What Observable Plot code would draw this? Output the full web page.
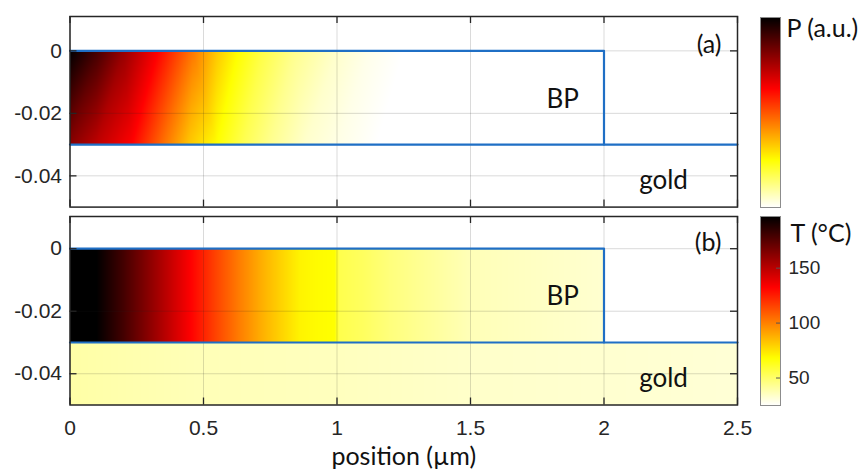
<!DOCTYPE html>
<html><head><meta charset="utf-8">
<script src="https://cdn.jsdelivr.net/npm/d3@7"></script>
<script src="https://cdn.jsdelivr.net/npm/@observablehq/plot@0.6"></script>
<style>
body{margin:0;background:#fff;}
#chart{position:relative;width:865px;height:471px;overflow:hidden;background:#fff;}
#chart svg{position:absolute;overflow:visible;}
</style></head><body><div id="chart"></div>
<script>
// ---- data ----
// (a) normalised absorbed power along the top (y = 0) and bottom (y = -0.03) of the BP flake
const pXTop    = [0, 0.1, 0.2, 0.33, 0.46, 0.55, 0.63, 0.72, 0.84, 1.0, 1.12, 1.25, 2.0];
const pTop     = [1.0, 0.9, 0.78, 0.625, 0.45, 0.33, 0.25, 0.18, 0.11, 0.05, 0.02, 0, 0];
const pXBottom = [0, 0.1, 0.23, 0.35, 0.45, 0.55, 0.65, 0.75, 0.88, 1.0, 1.15, 2.0];
const pBottom  = [0.8, 0.72, 0.625, 0.46, 0.33, 0.25, 0.17, 0.11, 0.05, 0.025, 0, 0];
// (b) temperature (°C) in the BP flake and in the gold
const tX    = [0, 0.1, 0.2, 0.28, 0.37, 0.45, 0.55, 0.64, 0.72, 0.8, 0.86, 0.92, 0.99, 1.01, 1.1, 1.2, 1.35, 1.5, 1.75, 2.0];
const tBP   = [205, 197, 180, 165, 148, 133, 115, 100, 88, 78, 71, 69, 68, 55, 52, 47, 42, 37, 35, 33];
const goldX = [0, 0.5, 1, 1.5, 2, 2.5];
const tGold = [40, 37, 36, 34, 33, 32];
// geometry (µm)
const bpOutlineX = [0, 2, 2];
const bpOutlineY = [0, 0, -0.03];
const goldTopX = [0, 2.5];
const goldTopY = [-0.03, -0.03];
const bpTopY = 0, bpBottomY = -0.03, bpRightX = 2, xMax = 2.5, yMin = -0.05;
// ticks
const xTicks = [0, 0.5, 1, 1.5, 2, 2.5];
const yTicks = [0, -0.02, -0.04];
const tTicks = [50, 100, 150];
const pRange = [0, 1];
const tRange = [25, 197];
// labels
const regionLabels = [{label: "BP", x: 1.845, y: -0.0155}, {label: "gold", x: 2.223, y: -0.0417}];

// ---- styling ----
const hotStops = ["#ffffff", "#ffff00", "#ff0000", "#000000"]; // reversed MATLAB "hot"
const hotFrac = [0, 0.25, 0.625, 1];
const blue = "#1f6fc5";
const ink = "#262626";
const tickFont = "'Liberation Sans', Arial, sans-serif";
const textFont = "Lato, 'Open Sans', sans-serif";
const ML = 69.5, MR = 128;

function hotScale(dom) {
  return {type: "linear", domain: hotFrac.map(f => dom[0] + f * (dom[1] - dom[0])), range: hotStops, interpolate: "rgb", clamp: true};
}

const pRows = [
  ...pXTop.map((x, i) => ({x, y: bpTopY, v: pTop[i]})),
  ...pXBottom.map((x, i) => ({x, y: bpBottomY, v: pBottom[i]}))
];
const tRows = [
  ...tX.map((x, i) => ({x, y: bpTopY, v: tBP[i]})),
  ...tX.map((x, i) => ({x, y: bpBottomY, v: tBP[i]}))
];
const gRows = [
  ...goldX.map((x, i) => ({x, y: bpBottomY, v: tGold[i]})),
  ...goldX.map((x, i) => ({x, y: yMin, v: tGold[i]}))
];

function panel(o) {
  const fw = 865 - ML - MR, fh = o.height - o.mt - o.mb;
  return Plot.plot({
    width: 865, height: o.height,
    marginLeft: ML, marginRight: MR, marginTop: o.mt, marginBottom: o.mb,
    x: {domain: [0, xMax], axis: null},
    y: {domain: [yMin, o.yTop], axis: null},
    color: o.color,
    style: {fontFamily: tickFont, fontSize: "21px", color: ink, background: "transparent"},
    marks: [
      ...o.rasters,
      Plot.gridX(xTicks, {stroke: ink, strokeOpacity: 0.17}),
      Plot.gridY(yTicks, {stroke: ink, strokeOpacity: 0.17}),
      Plot.line(bpOutlineX.map((x, i) => [x, bpOutlineY[i]]), {stroke: blue, strokeWidth: 2.2}),
      Plot.line(goldTopX.map((x, i) => [x, goldTopY[i]]), {stroke: blue, strokeWidth: 2.2}),
      Plot.tickY(yTicks, {y: d => d, insetRight: fw - 7, stroke: ink, strokeWidth: 1.3}),
      Plot.tickY(yTicks, {y: d => d, insetLeft: fw - 7, stroke: ink, strokeWidth: 1.3}),
      Plot.tickX(xTicks, {x: d => d, insetBottom: fh - 7, stroke: ink, strokeWidth: 1.3}),
      Plot.tickX(xTicks, {x: d => d, insetTop: fh - 7, stroke: ink, strokeWidth: 1.3}),
      Plot.frame({stroke: ink, strokeWidth: 1.5}),
      Plot.axisY(yTicks, {tickSize: 0, tickPadding: 8, tickFormat: d => String(d), label: null, fill: ink, fontSize: 21, fontFamily: tickFont}),
      o.showX ? Plot.axisX(xTicks, {tickSize: 0, tickPadding: 15, tickFormat: d => String(d), label: null, fill: ink, fontSize: 21, fontFamily: tickFont}) : null,
      o.showX ? Plot.text(["position (µm)"], {frameAnchor: "bottom", dy: 60, lineAnchor: "bottom", fontFamily: textFont, fontSize: 25, fill: "#111"}) : null,
      Plot.text(regionLabels, {x: "x", y: "y", text: "label", fontFamily: textFont, fontSize: 26, fill: "#111"}),
      Plot.text([o.tag], {frameAnchor: "top-right", textAnchor: "end", lineAnchor: "middle", dx: -16, dy: o.tagDy, fontFamily: textFont, fontSize: 25, fill: "#111"})
    ]
  });
}

function colorbar(o) {
  const fw = 20;
  return Plot.plot({
    width: 105, height: o.height,
    marginLeft: 0, marginRight: 105 - fw, marginTop: o.mt, marginBottom: o.mb,
    x: {domain: [0, 1], axis: null},
    y: {domain: o.domain, axis: null},
    color: o.color,
    style: {fontFamily: tickFont, fontSize: "18px", color: ink, background: "transparent"},
    marks: [
      Plot.raster({fill: (x, y) => y, x1: 0, x2: 1, y1: o.domain[0], y2: o.domain[1]}),
      Plot.frame({stroke: "#8c8c8c", strokeWidth: 1}),
      o.ticks ? Plot.tickY(o.ticks, {y: d => d, insetLeft: fw - 4, stroke: "#555"}) : null,
      o.ticks ? Plot.axisY(o.ticks, {anchor: "right", tickSize: 0, tickPadding: 8, label: null, fill: ink, fontSize: 19, fontFamily: tickFont}) : null,
      Plot.text([o.title], {frameAnchor: "top-right", textAnchor: "start", lineAnchor: "top", dx: o.titleDx, dy: o.titleDy, fontFamily: textFont, fontSize: 25, fill: "#111"})
    ]
  });
}

const colorP = hotScale(pRange);
const colorT = hotScale(tRange);

const a = panel({
  height: 212, mt: 16, mb: 5.4, yTop: 0.011, color: colorP, tag: "(a)", tagDy: 28,
  rasters: [Plot.raster(pRows, {x: "x", y: "y", fill: "v", x1: 0, x2: bpRightX, y1: bpBottomY, y2: bpTopY, interpolate: "barycentric"})]
});
const b = panel({
  height: 271, mt: 16, mb: 66.5, yTop: 0.0103, color: colorT, tag: "(b)", tagDy: 26, showX: true,
  rasters: [
    Plot.raster(tRows, {x: "x", y: "y", fill: "v", x1: 0, x2: bpRightX, y1: bpBottomY, y2: bpTopY, interpolate: "barycentric"}),
    Plot.raster(gRows, {x: "x", y: "y", fill: "v", x1: 0, x2: xMax, y1: yMin, y2: bpBottomY, interpolate: "barycentric"})
  ]
});
const ca = colorbar({height: 212, mt: 17, mb: 5, domain: pRange, color: colorP, title: "P (a.u.)", titleDx: 6, titleDy: 2});
const cb = colorbar({height: 210, mt: 16, mb: 5, domain: tRange, color: colorT, ticks: tTicks, title: "T (°C)", titleDx: 10, titleDy: 8});

const chart = document.getElementById("chart");
[[a, 0, 0], [b, 0, 200], [ca, 760, 0], [cb, 760, 200]].forEach(([el, left, top]) => {
  el.style.left = left + "px";
  el.style.top = top + "px";
  chart.appendChild(el);
});
</script></body></html>
